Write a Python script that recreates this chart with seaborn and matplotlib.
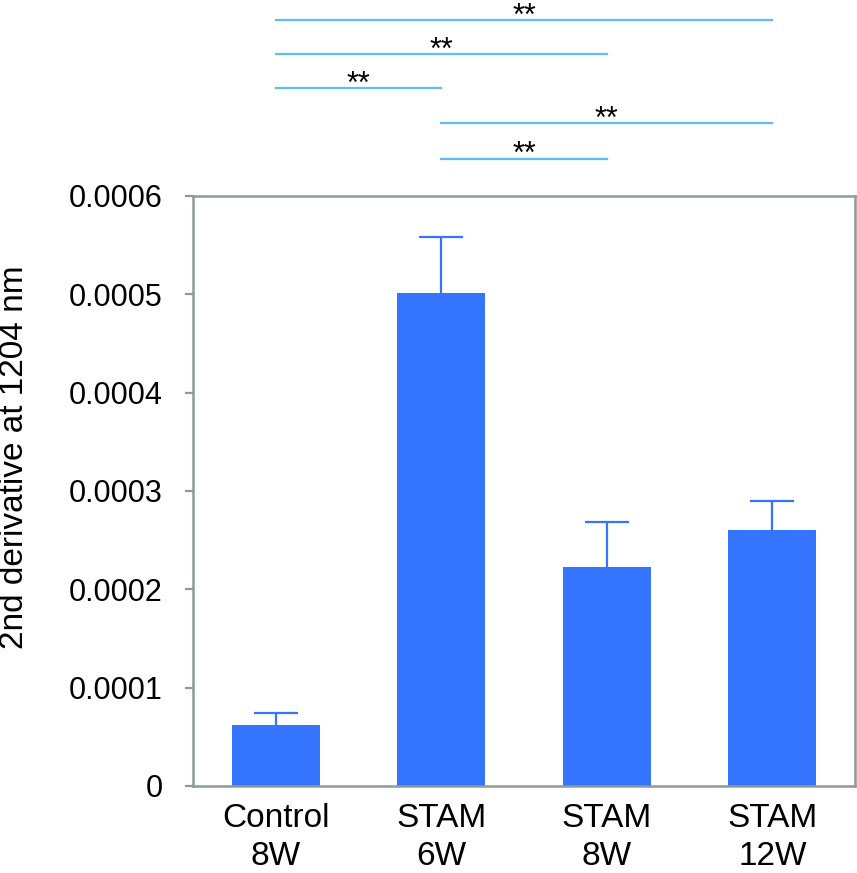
import matplotlib
matplotlib.use('Agg')
import matplotlib.pyplot as plt
import seaborn as sns
import numpy as np

# data
groups = ['Control\n8W', 'STAM\n6W', 'STAM\n8W', 'STAM\n12W']
means = [0.000062, 0.000501, 0.000223, 0.000260]
errs = [0.000012, 0.000057, 0.0000455, 0.000030]
yticks = [0, 0.0001, 0.0002, 0.0003, 0.0004, 0.0005, 0.0006]
ytick_labels = ['0', '0.0001', '0.0002', '0.0003', '0.0004', '0.0005', '0.0006']
# significance brackets: (from group, to group, height, label)
sig_pairs = [(0, 3, 0.000779, '**'),
             (0, 2, 0.000744, '**'),
             (0, 1, 0.000710, '**'),
             (1, 3, 0.000674, '**'),
             (1, 2, 0.000638, '**')]

plt.rcParams['font.family'] = ['Liberation Sans', 'DejaVu Sans']
bar_color = '#3574FE'
spine_color = '#8C9A9A'
sig_color = '#5BBEF5'

fig = plt.figure(figsize=(8.57, 8.73), dpi=100)
ax = fig.add_axes([0.2252, 0.0997, 0.7725, 0.6758])

sns.barplot(x=groups, y=means, color=bar_color, saturation=1, width=0.53, ax=ax)
eb = ax.errorbar(range(len(groups)), means, yerr=[np.zeros(len(errs)), errs], fmt='none',
                 ecolor=bar_color, elinewidth=1.6, capsize=15.5, capthick=1.6)
# only the upper cap is shown
eb[1][0].set_visible(False)

ax.set_xlim(-0.5, 3.5)
ax.set_ylim(0, 0.0006)
ax.set_yticks(yticks)
ax.set_yticklabels(ytick_labels, fontsize=22)
ax.tick_params(axis='y', length=6, width=1.6, color=spine_color, pad=16)
ax.tick_params(axis='x', length=0, pad=12, labelsize=24)
for lab in ax.get_xticklabels():
    lab.set_linespacing(1.3)
for s in ax.spines.values():
    s.set_color(spine_color)
    s.set_linewidth(1.8)
ax.set_xlabel('')
ax.set_ylabel('')

fig.text(15 / 857, 1 - 457 / 873, '2nd derivative at 1204 nm', rotation=90,
         ha='center', va='center', fontsize=24)

for a, b, h, lab in sig_pairs:
    ax.plot([a, b], [h, h], color=sig_color, lw=1.6, clip_on=False)
    ax.annotate(lab, xy=((a + b) / 2, h), xytext=(0, -3.4), textcoords='offset points',
                ha='center', va='baseline', fontsize=22, annotation_clip=False)

fig.savefig('out.png', dpi=100)
